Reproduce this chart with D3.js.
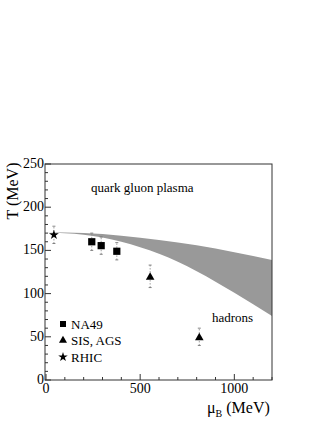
<!DOCTYPE html>
<html>
<head>
<meta charset="utf-8">
<script src="https://cdn.jsdelivr.net/npm/d3@7"></script>
<style>
body { margin: 0; background: #fff; }
</style>
</head>
<body>
<svg id="chart" width="327" height="423"></svg>
<script>
// phase boundary band
var bandMu = [0, 200, 400, 600, 800, 1000, 1200];
var bandUpper = [171, 170, 167, 162, 156, 148, 139];
var bandLower = [171, 168, 160, 146, 126, 101, 74];

// freeze-out points
var na49Mu = [243, 293, 376];
var na49T = [160, 155.5, 149];
var na49Err = [10, 10, 10];

var sisMu = [553, 814];
var sisT = [120, 50];
var sisErr = [13, 10];

var rhicMu = [42];
var rhicT = [168];
var rhicErr = [10];

var xTicks = [0, 500, 1000];
var yTicks = [0, 50, 100, 150, 200, 250];
var legendNames = ["NA49", "SIS, AGS", "RHIC"];

var FONT = "Liberation Serif";

var margin = {top: 164, right: 55, bottom: 43, left: 45},
    width = 327 - margin.left - margin.right,
    height = 423 - margin.top - margin.bottom;

var svg = d3.select("#chart");
var g = svg.append("g").attr("transform", "translate(" + margin.left + "," + margin.top + ")");

var x = d3.scaleLinear().domain([0, 1200]).range([1, width]);
var y = d3.scaleLinear().domain([0, 250]).range([height, 0]);

// band
var band = bandMu.map(function(m, i){ return {mu: m, lo: bandLower[i], hi: bandUpper[i]}; });
g.append("path")
    .datum(band)
    .attr("d", d3.area().curve(d3.curveMonotoneX)
        .x(function(d){ return x(d.mu); })
        .y0(function(d){ return y(d.lo); })
        .y1(function(d){ return y(d.hi); }))
    .attr("fill", "#999999");

// frame
g.append("rect").attr("width", width).attr("height", height)
    .attr("fill", "none").attr("stroke", "#333").attr("stroke-width", 1);

// ticks
var xMinor = d3.range(0, 1201, 100);
g.selectAll(".xt").data(xMinor).enter().append("line")
    .attr("x1", function(d){ return x(d); }).attr("x2", function(d){ return x(d); })
    .attr("y1", height)
    .attr("y2", function(d){ return d % 500 === 0 ? height - 6 : height - 3; })
    .attr("stroke", "#333");
var yMinor = d3.range(0, 251, 10);
g.selectAll(".yt").data(yMinor).enter().append("line")
    .attr("y1", function(d){ return y(d); }).attr("y2", function(d){ return y(d); })
    .attr("x1", 0)
    .attr("x2", function(d){ return d % 50 === 0 ? 6 : 3; })
    .attr("stroke", "#333");

g.selectAll(".xl").data(xTicks).enter().append("text")
    .attr("x", function(d){ return x(d); })
    .attr("y", height + 13)
    .attr("text-anchor", "middle")
    .attr("font-family", FONT)
    .attr("font-size", "14px")
    .text(function(d){ return d; });
g.selectAll(".yl").data(yTicks).enter().append("text")
    .attr("x", -1)
    .attr("y", function(d){ return y(d) + 4; })
    .attr("text-anchor", "end")
    .attr("font-family", FONT)
    .attr("font-size", "14px")
    .text(function(d){ return d; });

// axis titles
svg.append("text")
    .attr("transform", "translate(18,191) rotate(-90)")
    .attr("text-anchor", "middle")
    .attr("font-family", FONT)
    .attr("font-size", "16px")
    .text("T (MeV)");
var xt = svg.append("text").attr("x", 207).attr("y", 413)
    .attr("font-family", FONT).attr("font-size", "16px");
xt.append("tspan").text("\u03bc");
xt.append("tspan").attr("font-size", "10px").attr("dy", 4).text("B");
xt.append("tspan").attr("dy", -4).text(" (MeV)");

// error bars
function errBars(mu, t, err){
    mu.forEach(function(m, i){
        var xx = x(m);
        g.append("line")
            .attr("x1", xx).attr("x2", xx)
            .attr("y1", y(t[i] - err[i])).attr("y2", y(t[i] + err[i]))
            .attr("stroke", "#888").attr("stroke-width", 0.8)
            .attr("stroke-dasharray", "1.5,1.5");
        [t[i] - err[i], t[i] + err[i]].forEach(function(v){
            g.append("line")
                .attr("x1", xx - 1.5).attr("x2", xx + 1.5)
                .attr("y1", y(v)).attr("y2", y(v))
                .attr("stroke", "#666").attr("stroke-width", 0.8);
        });
    });
}
errBars(na49Mu, na49T, na49Err);
errBars(sisMu, sisT, sisErr);
errBars(rhicMu, rhicT, rhicErr);

var sq = d3.symbol().type(d3.symbolSquare).size(52);
var tri = d3.symbol().type(d3.symbolTriangle).size(32);
var star = d3.symbol().type(d3.symbolStar).size(30);

g.selectAll(".na49").data(na49Mu).enter().append("path")
    .attr("d", sq)
    .attr("transform", function(d, i){ return "translate(" + x(d) + "," + y(na49T[i]) + ")"; })
    .attr("fill", "#000");
g.selectAll(".sis").data(sisMu).enter().append("path")
    .attr("d", tri)
    .attr("transform", function(d, i){ return "translate(" + x(d) + "," + (y(sisT[i]) + 1) + ")"; })
    .attr("fill", "#000");
g.selectAll(".rhic").data(rhicMu).enter().append("path")
    .attr("d", star)
    .attr("transform", function(d, i){ return "translate(" + x(d) + "," + y(rhicT[i]) + ")"; })
    .attr("fill", "#000");

// region labels
svg.append("text").attr("x", 91).attr("y", 192).attr("font-family", FONT)
    .attr("font-size", "13px").text("quark gluon plasma");
svg.append("text").attr("x", 212).attr("y", 322).attr("font-family", FONT)
    .attr("font-size", "13px").text("hadrons");

// legend
var legendSize = [36, 28, 28];
legendNames.forEach(function(n, i){
    var ly = 324 + i * 16.5;
    svg.append("path")
        .attr("d", d3.symbol().type([d3.symbolSquare, d3.symbolTriangle, d3.symbolStar][i]).size(legendSize[i]))
        .attr("transform", "translate(63," + ly + ")")
        .attr("fill", "#000");
    svg.append("text").attr("x", 71).attr("y", ly + 4.5).attr("font-family", FONT)
        .attr("font-size", "13px").text(n);
});
</script>
</body>
</html>
